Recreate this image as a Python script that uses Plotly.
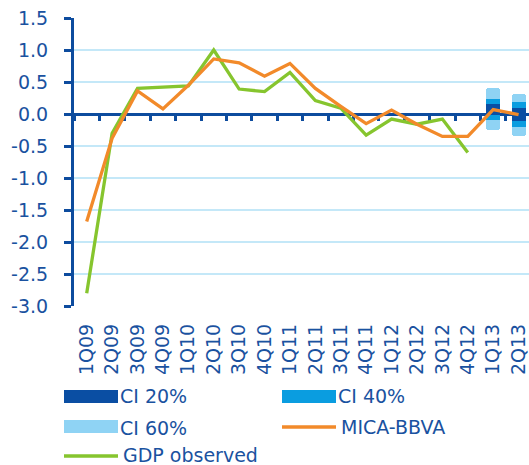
import plotly.graph_objects as go

quarters = ["1Q09", "2Q09", "3Q09", "4Q09", "1Q10", "2Q10", "3Q10", "4Q10", "1Q11",
            "2Q11", "3Q11", "4Q11", "1Q12", "2Q12", "3Q12", "4Q12", "1Q13", "2Q13"]
gdp_observed = [-2.80, -0.30, 0.40, 0.42, 0.44, 1.00, 0.39, 0.35, 0.65,
                0.21, 0.09, -0.33, -0.08, -0.16, -0.08, -0.60]
mica_bbva = [-1.68, -0.38, 0.36, 0.08, 0.45, 0.86, 0.80, 0.59, 0.79,
             0.40, 0.12, -0.15, 0.06, -0.16, -0.35, -0.35, 0.07, -0.01]
forecast_q = ["1Q13", "2Q13"]
ci60_low = [-0.25, -0.34]
ci60_high = [0.40, 0.32]
ci40_low = [-0.10, -0.21]
ci40_high = [0.24, 0.19]
ci20_low = [-0.01, -0.11]
ci20_high = [0.15, 0.09]
ytick_vals = [1.5, 1.0, 0.5, 0.0, -0.5, -1.0, -1.5, -2.0, -2.5, -3.0]
ytick_text = ["1.5", "1.0", "0.5", "0.0", "-0.5", "-1.0", "-1.5", "-2.0", "-2.5", "-3.0"]
legend_names = ["CI 20%", "CI 40%", "CI 60%", "MICA-BBVA", "GDP observed"]

BLUE_TXT = "#1a52a0"
AXIS = "#0d4c9e"
C20 = "#0a4ea3"
C40 = "#0a9de0"
C60 = "#8fd3f4"
ORANGE = "#f28a2a"
GREEN = "#86c52e"
GRID = "#c4e8f8"
FONT = "DejaVu Sans"
FS = 19

fig = go.Figure()

def band(low, high, color, name, radius):
    fig.add_trace(go.Bar(
        x=forecast_q, y=[h - l for l, h in zip(low, high)], base=low,
        marker=dict(color=color, line=dict(width=0), cornerradius=radius),
        width=0.55, name=name, showlegend=False, hoverinfo="skip"))

band(ci60_low, ci60_high, C60, legend_names[2], 3)
band(ci40_low, ci40_high, C40, legend_names[1], 0)
band(ci20_low, ci20_high, C20, legend_names[0], 0)

fig.add_trace(go.Scatter(x=quarters[:len(gdp_observed)], y=gdp_observed, mode="lines",
                         line=dict(color=GREEN, width=3.3), name=legend_names[4],
                         showlegend=False))
fig.add_trace(go.Scatter(x=quarters, y=mica_bbva, mode="lines",
                         line=dict(color=ORANGE, width=3.3), name=legend_names[3],
                         showlegend=False))
# helper trace (no visible marks) to hold the tick axis drawn along y = 0
fig.add_trace(go.Scatter(x=quarters, y=[None] * len(quarters), xaxis="x2",
                         mode="lines", showlegend=False, hoverinfo="skip"))

L, T, W, H = 74, 18, 455, 288
def px(x):
    return (x - L) / W
def py(y):
    return (T + H - y) / H

fig.update_layout(
    width=529, height=465,
    margin=dict(l=L, r=0, t=T, b=465 - T - H, pad=0),
    paper_bgcolor="white", plot_bgcolor="white",
    barmode="overlay", bargap=0,
    font=dict(family=FONT, color=BLUE_TXT, size=FS),
    xaxis=dict(type="category", categoryarray=quarters, categoryorder="array",
               range=[-0.5, 17.41], showgrid=False, showline=False, ticks="",
               tickangle=-90, tickfont=dict(size=FS, color=BLUE_TXT),
               ticklabelstandoff=13, zeroline=False),
    xaxis2=dict(type="category", categoryarray=quarters, categoryorder="array",
                range=[-0.5, 17.41], overlaying="x", anchor="free", position=2 / 3,
                side="bottom", showgrid=False, showline=False, showticklabels=False,
                ticks="outside", tickson="boundaries", ticklen=6, tickwidth=3,
                tickcolor=AXIS, layer="below traces", zeroline=False),
    yaxis=dict(range=[-3.0, 1.5], tickvals=ytick_vals, ticktext=ytick_text,
               showgrid=True, gridcolor=GRID, gridwidth=1.5,
               zeroline=True, zerolinecolor=AXIS, zerolinewidth=3,
               showline=True, linecolor=AXIS, linewidth=3,
               ticks="outside", ticklen=7, tickwidth=3, tickcolor=AXIS,
               tickfont=dict(size=FS, color=BLUE_TXT), ticklabelstandoff=12),
    showlegend=False,
)

# manual legend (symbols as paper shapes, names as text)
shapes = []
annots = []
def box(x0, x1, y0, y1, color):
    shapes.append(dict(type="rect", xref="paper", yref="paper",
                       x0=px(x0), x1=px(x1), y0=py(y1), y1=py(y0),
                       fillcolor=color, line=dict(width=0), layer="above"))
def seg(x0, x1, y, color):
    shapes.append(dict(type="line", xref="paper", yref="paper",
                       x0=px(x0), x1=px(x1), y0=py(y), y1=py(y),
                       line=dict(color=color, width=3.5), layer="above"))
def label(x, y, text):
    annots.append(dict(xref="paper", yref="paper", x=px(x), y=py(y), text=text,
                       showarrow=False, xanchor="left", yanchor="middle",
                       font=dict(family=FONT, size=FS, color=BLUE_TXT)))

box(64, 118, 390, 403, C20); label(118, 396, legend_names[0])
box(282, 336, 390, 403, C40); label(336, 396, legend_names[1])
box(64, 118, 420, 433, C60); label(118, 428, legend_names[2])
seg(282, 336, 427, ORANGE); label(339, 427, legend_names[3])
seg(64, 118, 456, GREEN); label(121, 455, legend_names[4])

fig.update_layout(shapes=shapes, annotations=annots)
fig.write_html("out.html", config={"displayModeBar": False},
               post_script="document.body.style.margin='0px';")
